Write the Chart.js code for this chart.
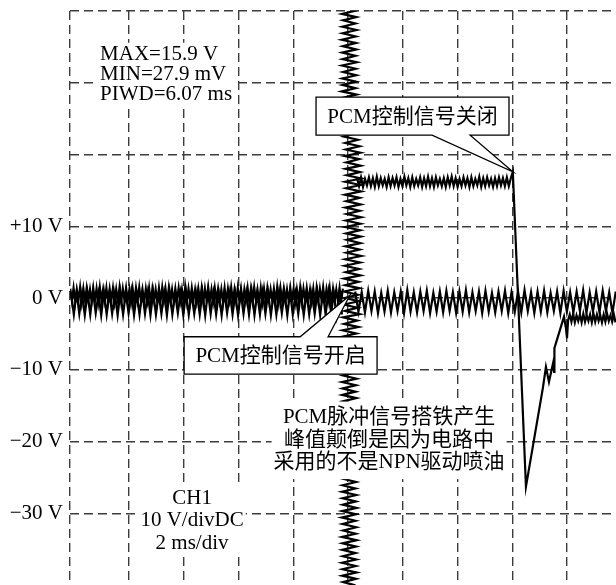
<!DOCTYPE html>
<html>
<head>
<meta charset="utf-8">
<script src="https://cdn.jsdelivr.net/npm/chart.js@4.4.1/dist/chart.umd.min.js"></script>
<style>
  html, body { margin: 0; padding: 0; background: #fff; overflow: hidden; }
  canvas { display: block; }
</style>
</head>
<body>
<canvas id="scope" width="616" height="585"></canvas>
<script>
// time axis in ms (2 ms/div), voltage axis in V (10 V/div)
const xMinMs = -10.16;
const xMaxMs = 9.79;
const xGridMs = [xMinMs, -8, -6, -4, -2, 0, 2, 4, 6, 8];
const yTicks = [-40, -30, -20, -10, 0, 10, 20, 30, 40];
const yTickLabels = ['', '\u221230 V', '\u221220 V', '\u221210 V', '0 V', '+10 V', '', '', ''];

// baseline noise before the pulse (two overlapping sweeps)
const leftDenseStart = -10.15, leftDenseStep = 0.06;
const leftDenseV = [
  1.3,-0.4,1.4,-0.5,1.2,-0.3,1.5,-0.6,1.3,-0.4,
  1.4,-0.3,1.2,-0.5,1.4,-0.4,1.3,-0.6,1.5,-0.3,
  1.2,-0.4,1.4,-0.5,1.3,-0.3,1.4,-0.6,1.2,-0.4,
  1.5,-0.5,1.3,-0.3,1.4,-0.4,1.2,-0.6,1.3,-0.5,
  1.4,-0.3,1.5,-0.4,1.2,-0.5,1.3,-0.4,1.4,-0.6,
  1.3,-0.3,1.2,-0.5,1.4,-0.4,1.5,-0.3,1.3,-0.6,
  1.4,-0.4,1.2,-0.5,1.3,-0.3,1.4,-0.4,1.2,-0.6,
  1.5,-0.5,1.3,-0.4,1.4,-0.3,1.2,-0.5,1.3,-0.4,
  1.4,-0.6,1.3,-0.3,1.5,-0.4,1.2,-0.5,1.4,-0.3,
  1.3,-0.4,1.2,-0.6,1.4,-0.5,1.3,-0.3,1.5,-0.4,
  1.2,-0.5,1.4,-0.4,1.3,-0.6,1.2,-0.3,1.4,-0.5,
  1.3,-0.4,1.5,-0.3,1.2,-0.5,1.4,-0.6,1.3,-0.4,
  1.4,-0.3,1.2,-0.4,1.3,-0.5,1.5,-0.6,1.4,-0.3,
  1.3,-0.5,1.2,-0.4,1.4,-0.3,1.3,-0.6,1.2,-0.4,
  1.5,-0.5,1.3,-0.3,1.4,-0.4,1.2,-0.5,1.3,-0.6,
  1.4,-0.4,1.3,-0.3,1.5,-0.5,1.2,-0.4,1.4,-0.6,
  1.3,-0.3,1.2,-0.5,1.4,-0.4,1.3
];
const leftSparseStart = -10.12, leftSparseStep = 0.1;
const leftSparseV = [
  0.7,-2.3,0.8,-2.2,0.6,-2.4,0.7,-2.3,0.9,-2.1,
  0.6,-2.4,0.8,-2.3,0.7,-2.2,0.6,-2.4,0.8,-2.3,
  0.7,-2.1,0.9,-2.4,0.6,-2.3,0.8,-2.2,0.7,-2.4,
  0.8,-2.3,0.6,-2.2,0.7,-2.4,0.9,-2.3,0.6,-2.1,
  0.7,-2.4,0.8,-2.3,0.6,-2.2,0.7,-2.3,0.8,-2.4,
  0.9,-2.2,0.7,-2.3,0.6,-2.4,0.8,-2.1,0.7,-2.3,
  0.6,-2.4,0.8,-2.2,0.7,-2.3,0.9,-2.4,0.6,-2.3,
  0.8,-2.2,0.7,-2.4,0.6,-2.3,0.8,-2.1,0.7,-2.4,
  0.9,-2.3,0.6,-2.2,0.8,-2.4,0.7,-2.3,0.6,-2.2,
  0.8,-2.4,0.7,-2.3,0.9,-2.1,0.6,-2.4,0.7,-2.3
];

// baseline noise after the trigger
const rightBaseStart = 0.26, rightBaseStep = 0.119;
const rightBaseV = [
  0.9,-1.9,0.8,-2.0,1.0,-1.8,0.9,-2.1,0.7,-1.9,
  1.0,-2.0,0.8,-1.8,0.9,-2.1,1.1,-1.9,0.8,-2.0,
  0.9,-1.8,1.0,-2.1,0.7,-1.9,0.9,-2.0,1.0,-1.8,
  0.8,-2.1,0.9,-1.9,1.1,-2.0,0.8,-1.8,0.9,-2.1,
  1.0,-1.9,0.7,-2.0,0.9,-1.8,1.0,-2.1,0.8,-1.9,
  0.9,-2.0,1.1,-1.8,0.8,-2.1,0.9,-1.9,1.0,-2.0,
  0.7,-1.8,0.9,-2.1,1.0,-1.9,0.8,-2.0,0.9,-1.8,
  1.1,-2.1,0.8,-1.9,0.9,-2.0,1.0,-1.8,0.8,-2.1,
  0.9
];

// vertical ringing at the trigger point: time offset per voltage step
const vertStartV = 40.5, vertStepV = -0.45;
const vertT = [
  -0.2,0.28,-0.22,0.3,-0.18,0.27,-0.21,0.31,-0.2,0.28,
  -0.23,0.29,-0.19,0.3,-0.21,0.27,-0.2,0.32,-0.22,0.28,
  -0.18,0.3,-0.21,0.29,-0.2,0.27,-0.23,0.31,-0.19,0.28,
  -0.21,0.3,-0.2,0.28,-0.22,0.29,-0.18,0.31,-0.21,0.27,
  -0.15,0.36,-0.1,0.42,-0.08,0.45,-0.12,0.4,-0.06,0.46,
  -0.09,0.43,-0.05,0.48,-0.1,0.44,-0.07,0.47,-0.11,0.42,
  -0.06,0.46,-0.09,0.43,-0.05,0.48,-0.08,0.45,-0.1,0.44,
  -0.07,0.47,-0.04,0.45,-0.09,0.42,-0.06,0.48,-0.1,0.44,
  -0.12,0.4,-0.08,0.45,-0.14,0.38,-0.1,0.42,-0.15,0.36,
  -0.12,0.4,-0.16,0.35,-0.11,0.42,-0.18,0.33,-0.14,0.38,
  -0.2,0.3,-0.22,0.28,-0.19,0.31,-0.21,0.27,-0.2,0.29,
  -0.23,0.3,-0.2,0.28,-0.18,0.31,-0.22,0.29,-0.2,0.27,
  -0.21,0.3,-0.19,0.28,-0.23,0.31,-0.2,0.29,-0.22,0.27,
  -0.18,0.3,-0.21,0.28,-0.2,0.31,-0.22,0.29,-0.19,0.27,
  -0.2,0.3,-0.23,0.28,-0.21,0.31,-0.18,0.29,-0.2,0.27,
  -0.22,0.3,-0.2,0.28,-0.19,0.31,-0.21,0.29,-0.23,0.27,
  -0.2,0.3,-0.18,0.28,-0.22,0.31,-0.2,0.29,-0.21,0.27,
  -0.19,0.3,-0.22,0.28,-0.2,0.31,-0.21,0.29,-0.18,0.27
];

// PCM on: high level
const highStart = 0.33, highStep = 0.072;
const highV = [
  16.7,15.6,16.8,15.5,16.6,15.7,16.8,15.6,16.7,15.5,
  16.9,15.6,16.7,15.7,16.6,15.5,16.8,15.6,16.7,15.7,
  16.8,15.5,16.6,15.6,16.9,15.7,16.7,15.5,16.8,15.6,
  16.6,15.7,16.8,15.5,16.7,15.6,16.9,15.6,16.7,15.5,
  16.8,15.7,16.6,15.6,16.7,15.5,16.8,15.7,16.9,15.6,
  16.7,15.5,16.6,15.6,16.8,15.7,16.7,15.5,16.8,15.6,
  16.6,15.7,16.9,15.5,16.7,15.6,16.8,15.7,16.6,15.5,
  16.7,15.6,16.8,15.7,16.7,15.6,16.8,15.6,16.7
];
// PCM off: falling edge, negative peak and recovery
const edgeT = [6.02, 6.50, 7.12, 7.23, 7.34, 7.49, 7.53, 7.54, 7.89, 7.96, 8.00, 8.04];
const edgeV = [17.6, -26.3, -12.5, -9.6, -11.7, -9.1, -10.3, -7.0, -2.6, -4.2, -5.6, -3.1];
const tailStart = 8.1, tailStep = 0.062;
const tailV = [
  -2.3,-3.3,-2.2,-3.4,-2.4,-3.2,-2.3,-3.4,-2.2,-3.3,
  -2.4,-3.2,-2.3,-3.4,-2.2,-3.3,-2.3,-3.2,-2.4,-3.4,
  -2.3,-3.3,-2.2,-3.2,-2.4,-3.3,-2.3,-3.4
];

const SERIF = '"Liberation Serif", "Noto Sans CJK SC", serif';
const notes = {
  blocks: [
    { lines: ['MAX=15.9 V', 'MIN=27.9 mV', 'PIWD=6.07 ms'], t: -9.06, v: 33.9, gap: 20, align: 'left', pad: 2 },
    { lines: ['CH1', '10 V/divDC', '2 ms/div'], t: -5.70, v: -27.9, gap: 22.5, align: 'center', pad: 2 },
    { lines: ['PCM脉冲信号搭铁产生', '峰值颠倒是因为电路中', '采用的不是NPN驱动喷油'], t: 1.50, v: -16.7, gap: 22.5, align: 'center', pad: 5 }
  ],
  bubbles: [
    { text: 'PCM控制信号关闭', t0: -1.17, t1: 5.88, v0: 28.0, v1: 22.7, tail: 'bottom', base: [3.07, 4.46], tip: [6.02, 17.6] },
    { text: 'PCM控制信号开启', t0: -5.99, t1: 1.06, v0: -5.4, v1: -10.6, tail: 'top', base: [-1.75, -0.73], tip: [0.07, 0.4] }
  ]
};

function sampled(start, step, values) {
  return values.map((v, i) => ({ x: start + i * step, y: v }));
}

const pulseData = sampled(highStart, highStep, highV)
  .concat(edgeT.map((t, i) => ({ x: t, y: edgeV[i] })))
  .concat(sampled(tailStart, tailStep, tailV));
const vertData = vertT.map((t, i) => ({ x: t, y: vertStartV + i * vertStepV }));

const trace = { showLine: true, pointRadius: 0, borderColor: '#000', borderWidth: 2.2, tension: 0, fill: false };

const notesPlugin = {
  id: 'notes',
  afterDatasetsDraw(chart) {
    const ctx = chart.ctx, xs = chart.scales.x, ys = chart.scales.y;
    const px = t => xs.getPixelForValue(t), py = v => ys.getPixelForValue(v);
    ctx.save();
    ctx.font = '21px ' + SERIF;
    ctx.textBaseline = 'middle';
    notes.blocks.forEach(b => {
      const x = px(b.t), y0 = py(b.v);
      const w = Math.max(...b.lines.map(l => ctx.measureText(l).width));
      const left = b.align === 'left' ? x : x - w / 2;
      const top = y0 - b.gap / 2 - b.pad, bottom = y0 + (b.lines.length - 0.5) * b.gap + b.pad;
      ctx.fillStyle = '#fff';
      ctx.fillRect(left - 2, top, w + 4, bottom - top);
      ctx.fillStyle = '#000';
      ctx.textAlign = b.align;
      b.lines.forEach((l, i) => ctx.fillText(l, x, y0 + i * b.gap));
    });
    notes.bubbles.forEach(b => {
      const l = px(b.t0), r = px(b.t1), t = py(b.v0), btm = py(b.v1);
      const bl = px(b.base[0]), br = px(b.base[1]), tx = px(b.tip[0]), ty = py(b.tip[1]);
      ctx.beginPath();
      if (b.tail === 'bottom') {
        ctx.moveTo(l, t); ctx.lineTo(r, t); ctx.lineTo(r, btm); ctx.lineTo(br, btm);
        ctx.lineTo(tx, ty); ctx.lineTo(bl, btm); ctx.lineTo(l, btm);
      } else {
        ctx.moveTo(l, t); ctx.lineTo(bl, t); ctx.lineTo(tx, ty); ctx.lineTo(br, t);
        ctx.lineTo(r, t); ctx.lineTo(r, btm); ctx.lineTo(l, btm);
      }
      ctx.closePath();
      ctx.fillStyle = '#fff';
      ctx.fill();
      ctx.lineWidth = 1.3;
      ctx.strokeStyle = '#000';
      ctx.stroke();
      ctx.fillStyle = '#000';
      ctx.textAlign = 'center';
      ctx.fillText(b.text, (l + r) / 2, (t + btm) / 2 + 1);
    });
    ctx.restore();
  }
};

new Chart(document.getElementById('scope'), {
  type: 'scatter',
  data: {
    datasets: [
      Object.assign({ data: sampled(leftSparseStart, leftSparseStep, leftSparseV) }, trace),
      Object.assign({ data: sampled(leftDenseStart, leftDenseStep, leftDenseV) }, trace),
      Object.assign({ data: sampled(rightBaseStart, rightBaseStep, rightBaseV) }, trace),
      Object.assign({ data: vertData }, trace),
      Object.assign({ data: pulseData }, trace)
    ]
  },
  options: {
    responsive: false,
    animation: false,
    layout: { padding: { top: 11, right: 0, bottom: 0, left: 0 } },
    plugins: { legend: { display: false }, tooltip: { enabled: false } },
    scales: {
      x: {
        type: 'linear', min: xMinMs, max: xMaxMs,
        afterBuildTicks: s => { s.ticks = xGridMs.map(v => ({ value: v })); },
        afterFit: s => { s.height = 0; s.paddingLeft = 0; s.paddingRight = 0; },
        ticks: { display: false },
        grid: { color: '#3c3c3c', lineWidth: 1.4, drawTicks: false },
        border: { display: false, dash: [9, 5] }
      },
      y: {
        type: 'linear', min: -40, max: 40,
        afterBuildTicks: s => { s.ticks = yTicks.map(v => ({ value: v })); },
        afterFit: s => { s.width = 70; s.paddingTop = 0; s.paddingBottom = 0; },
        ticks: {
          padding: 7, color: '#000',
          font: { family: SERIF, size: 21 },
          callback: v => yTickLabels[yTicks.indexOf(v)]
        },
        grid: { color: c => (c.tick && c.tick.value === -40 ? 'rgba(0,0,0,0)' : '#3c3c3c'), lineWidth: 1.4, drawTicks: false },
        border: { display: false, dash: [9, 5] }
      }
    }
  },
  plugins: [notesPlugin]
});
</script>
</body>
</html>
